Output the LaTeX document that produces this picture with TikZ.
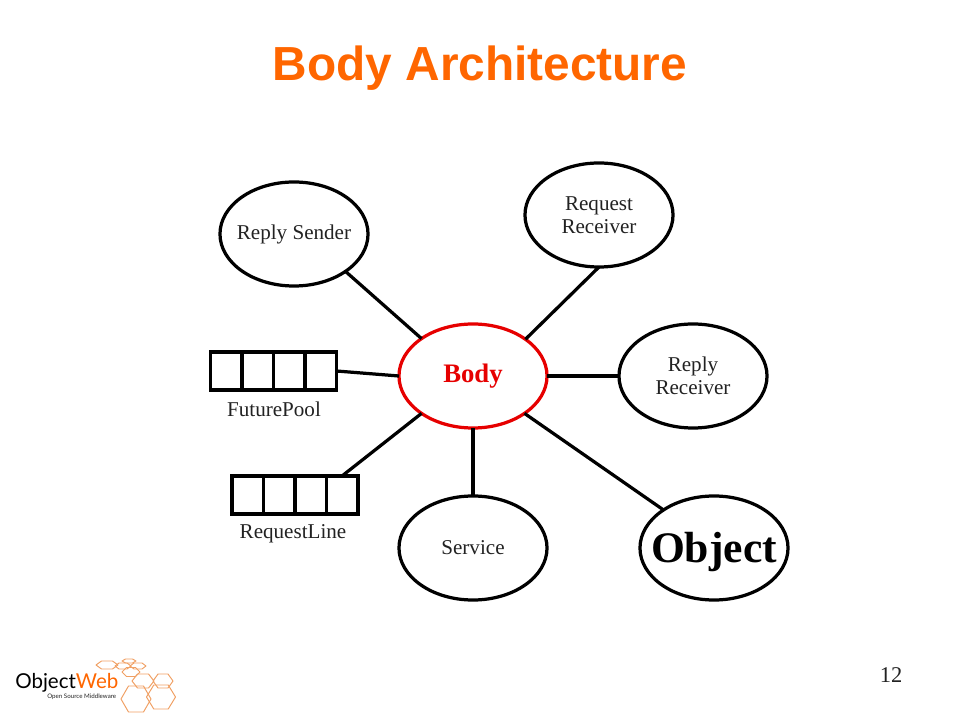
\documentclass[tikz,border=0pt]{standalone}
\usepackage{fontspec}
\setmainfont{Liberation Serif}
\newfontfamily\arialfont{Liberation Sans}
\newfontfamily\logofont{Lato}
\usepackage{tikz}
\usetikzlibrary{positioning, calc, shapes.geometric}
\definecolor{titleorange}{RGB}{255,102,0}
\definecolor{hexorange}{RGB}{240,160,100}
\definecolor{labelgray}{RGB}{34,34,34}
\definecolor{bodyred}{RGB}{230,0,0}

\begin{document}
\begin{tikzpicture}[
    x=0.025cm, y=-0.025cm,
    part/.style={draw, ellipse, line width=2.3pt, minimum width=3.7cm, minimum height=2.6cm, inner sep=-0.5cm, outer sep=0pt, align=center, text=labelgray, font=\fontsize{15}{16}\selectfont},
    core/.style={part, draw=bodyred, text=bodyred, font=\fontsize{19}{21}\selectfont\bfseries},
    queue/.style={draw, line width=2.3pt, minimum width=3.15cm, minimum height=0.95cm, inner sep=0pt, outer sep=0pt},
    qlabel/.style={text=labelgray, font=\fontsize{15}{16}\selectfont, inner sep=0pt},
    link/.style={line width=2.3pt},
    hexline/.style={hexorange, line width=0.7pt, line join=round},
]
\useasboundingbox (0,0) rectangle (960,720);

% -- Title --
\node[text=titleorange, font=\arialfont\fontsize{34}{38}\selectfont\bfseries] (title) at (480,68) {Body Architecture};

% -- Parts round the body --
\node[core] (body) at (473,376) {Body};
\node[part] (sender) at (294,234) {Reply Sender};
\node[part] (request) at (599,215) {Request\\Receiver};
\node[part] (reply) at (693,376) {Reply\\Receiver};
\node[part] (service) at (473,548) {Service};
\node[part, text=black, text depth=1pt, font=\fontsize{31}{34}\selectfont\bfseries] (object) at (714,548) {Object};

% -- Queues --
\node[queue] (pool) at (273.5,371) {};
\node[queue] (line) at (295,495) {};
\foreach \q in {pool, line} {
    \foreach \f in {0.25, 0.5, 0.75} {
        \draw[link] ($(\q.north west)!\f!(\q.north east)$) -- ($(\q.south west)!\f!(\q.south east)$);
    }
}
\node[qlabel] (poollabel) at (274,409) {FuturePool};
\node[qlabel] (linelabel) at (293,534) {RequestLine};
\coordinate (linetop) at ($(line.north west)!0.873!(line.north east)$);

% -- Links --
\draw[link] (body.144) -- (sender.-36);
\draw[link] (body.35) -- (request.south);
\draw[link] (body.east) -- (reply.west);
\draw[link] (body.south) -- (service.north);
\draw[link] (body.-36) -- (object.143);
\draw[link] (body.west) -- (pool.east);
\draw[link] (body.-144) -- (linetop);

% -- Page number --
\node[text=labelgray, font=\fontsize{16}{18}\selectfont] (page) at (891,675) {12};

% -- Logo --
\foreach \x/\y/\rx/\ry in {136/699/15/13, 161/697/14.5/12, 143/681/11/7, 163/681/10/7, 131/672/9/4.5, 107/665/11/4, 123/666/8/3, 138/666/8/3, 129/661/7/2} {
    \draw[hexline] (\x-\rx,\y) -- (\x-\rx/2,\y-\ry) -- (\x+\rx/2,\y-\ry) -- (\x+\rx,\y) -- (\x+\rx/2,\y+\ry) -- (\x-\rx/2,\y+\ry) -- cycle;
}
\node[anchor=base west, inner sep=0pt, font=\logofont\fontsize{14.6}{18}\selectfont] (logo) at (15,688) {Object\textcolor{titleorange}{Web}};
\node[anchor=base west, inner sep=0pt, text=labelgray, font=\logofont\fontsize{4.4}{6}\selectfont] (logosub) at (47,698) {Open Source Middleware};

\end{tikzpicture}
\end{document}
